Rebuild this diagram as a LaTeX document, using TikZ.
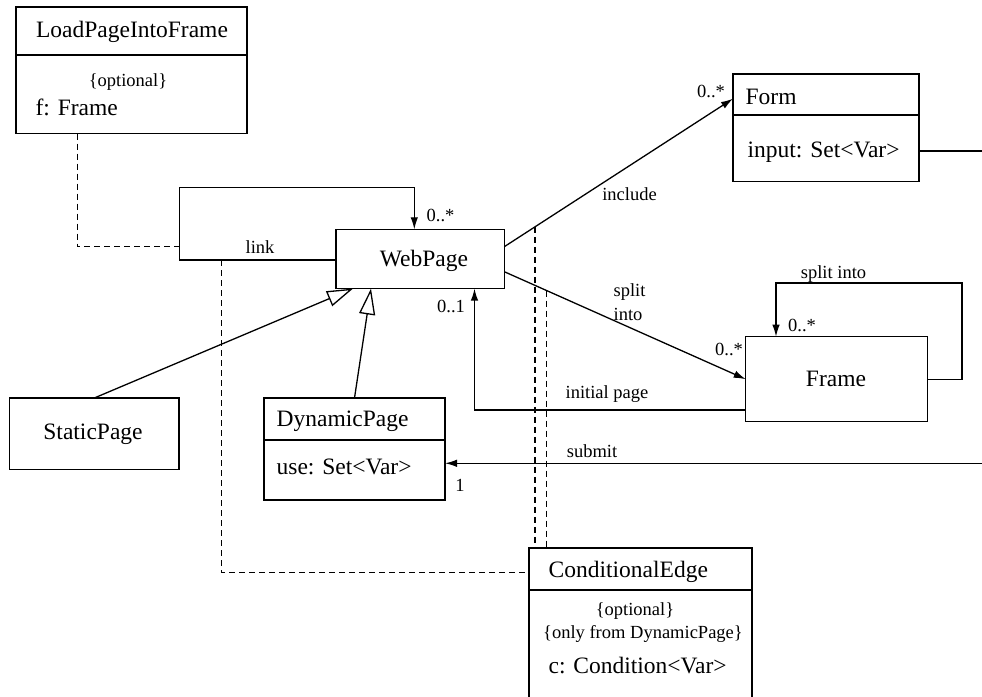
\documentclass[tikz,border=0pt]{standalone}
\usepackage{fontspec}
\setmainfont{Liberation Serif}
\usetikzlibrary{arrows.meta}
\begin{document}
\begin{tikzpicture}[x=1pt,y=-1pt,line width=1.3pt,
  cls/.style={draw,rectangle,inner sep=0pt,outer sep=0pt,anchor=north west},
  big/.style={inner sep=0pt,font=\fontsize{23.5}{26}\selectfont},
  small/.style={inner sep=0pt,font=\fontsize{18.5}{21}\selectfont},
  assoc/.style={-{Latex[length=12pt,width=7.5pt]}},
  gen/.style={-{Triangle[open,length=26pt,width=16pt]}},
  dep/.style={dash pattern=on 6pt off 4pt}]
\clip (0,0) rectangle (982,696);
\fill[white] (0,0) rectangle (982,696);

% class boxes
\node[cls,minimum width=231pt,minimum height=126.5pt] (lpf) at (16,7) {};
\draw ([yshift=-48pt]lpf.north west) -- ([yshift=-48pt]lpf.north east);
\node[cls,minimum width=168.3pt,minimum height=59.3pt] (web) at (336,229.3) {};
\node[cls,minimum width=186pt,minimum height=107.7pt] (form) at (733,74) {};
\draw ([yshift=-41pt]form.north west) -- ([yshift=-41pt]form.north east);
\node[cls,minimum width=182pt,minimum height=85pt] (frame) at (745.7,336.7) {};
\node[cls,minimum width=169.4pt,minimum height=71.5pt] (static) at (9.6,398) {};
\node[cls,minimum width=181pt,minimum height=102pt] (dyn) at (264,398) {};
\draw ([yshift=-42pt]dyn.north west) -- ([yshift=-42pt]dyn.north east);
\node[cls,minimum width=223pt,minimum height=180pt] (cond) at (529,548) {};
\draw ([yshift=-42pt]cond.north west) -- ([yshift=-42pt]cond.north east);

% class texts
\node[big,anchor=base] (lpfName) at (132,37.5) {LoadPageIntoFrame};
\node[small,anchor=base] (lpfOpt) at (128,86) {\{optional\}};
\node[big,anchor=base west] (lpfAttr) at (35,115) {f: Frame};
\node[big,anchor=base] (webName) at (424,266) {WebPage};
\node[big,anchor=base west] (formName) at (745,104) {Form};
\node[big,anchor=base west] (formAttr) at (747,157) {input: Set<Var>};
\node[big,anchor=base] (frameName) at (836,386) {Frame};
\node[big,anchor=base] (staticName) at (93,439.5) {StaticPage};
\node[big,anchor=base west] (dynName) at (276,426.7) {DynamicPage};
\node[big,anchor=base west] (dynAttr) at (276,474) {use: Set<Var>};
\node[big,anchor=base west] (condName) at (548,577.3) {ConditionalEdge};
\node[small,anchor=base] (condOpt) at (635,615) {\{optional\}};
\node[small,anchor=base] (condOnly) at (643,638.3) {\{only from DynamicPage\}};
\node[big,anchor=base west] (condAttr) at (548,673.3) {c: Condition<Var>};

% routing points
\coordinate (lkBL) at (179.3,260);
\coordinate (lkTL) at (179.3,187.3);
\coordinate (lkTR) at (414.3,187.3);
\coordinate (lkDash) at (179.3,246.7);
\coordinate (lpfFoot) at (77.3,133.5);
\coordinate (lkFoot) at (221.7,260);
\coordinate (condPort) at (529,572.3);
\coordinate (incA) at (504.3,246.7);
\coordinate (incB) at (733,98.7);
\coordinate (splA) at (504.3,271.7);
\coordinate (flR) at (962,283);
\coordinate (flL) at (776,283);
\coordinate (ipC) at (474.5,410);
\coordinate (subR) at (990,463.3);
\coordinate (formR) at (990,151);
\coordinate (genS) at (353,288.6);
\coordinate (genD) at (371,288.6);
\coordinate (acA) at (535,226.8);
\coordinate (acB) at (546.7,290.5);

% associations
\draw[assoc] (web.west |- lkBL) -- (lkBL) -- (lkTL) -- (lkTR) -- (lkTR |- web.north);
\draw[assoc] (incA) -- (incB);
\draw[assoc] (splA) -- (frame.west);
\draw[assoc] (frame.east) -| (flR) -- (flL) -- (flL |- frame.north);
\draw[assoc] (frame.west |- ipC) -- (ipC) -- (ipC |- web.south);
\draw[assoc] (subR) -- (dyn.east |- subR);
\draw (form.east |- formR) -- (formR);

% generalizations
\draw[gen] (static.north) -- (genS);
\draw[gen] (dyn.north) -- (genD);

% association classes
\draw[dep] (lpfFoot) |- (lkDash);
\draw[dep] (lkFoot) |- (condPort);
\draw[dep] (acA) -- (acA |- cond.north);
\draw[dep] (acB) -- (acB |- cond.north);

% labels
\node[small,anchor=base] (lLink) at (260,253.3) {link};
\node[small,anchor=base west] (lLinkM) at (426,221.7) {0..*};
\node[small,anchor=base] (lInc) at (629.5,200) {include};
\node[small,anchor=base] (lIncM) at (711,97.3) {0..*};
\node[small,anchor=base west] (lSplit) at (613,296) {split};
\node[small,anchor=base west] (lInto) at (613,320.7) {into};
\node[small,anchor=base] (lSplitM) at (729,355) {0..*};
\node[small,anchor=base] (lLoop) at (833.5,278) {split into};
\node[small,anchor=base] (lLoopM) at (802,331) {0..*};
\node[small,anchor=base] (lInit) at (607,398.3) {initial page};
\node[small,anchor=base] (lInitM) at (451,312.7) {0..1};
\node[small,anchor=base] (lSub) at (592,457.3) {submit};
\node[small,anchor=base] (lSubM) at (460,491.7) {1};
\end{tikzpicture}
\end{document}
